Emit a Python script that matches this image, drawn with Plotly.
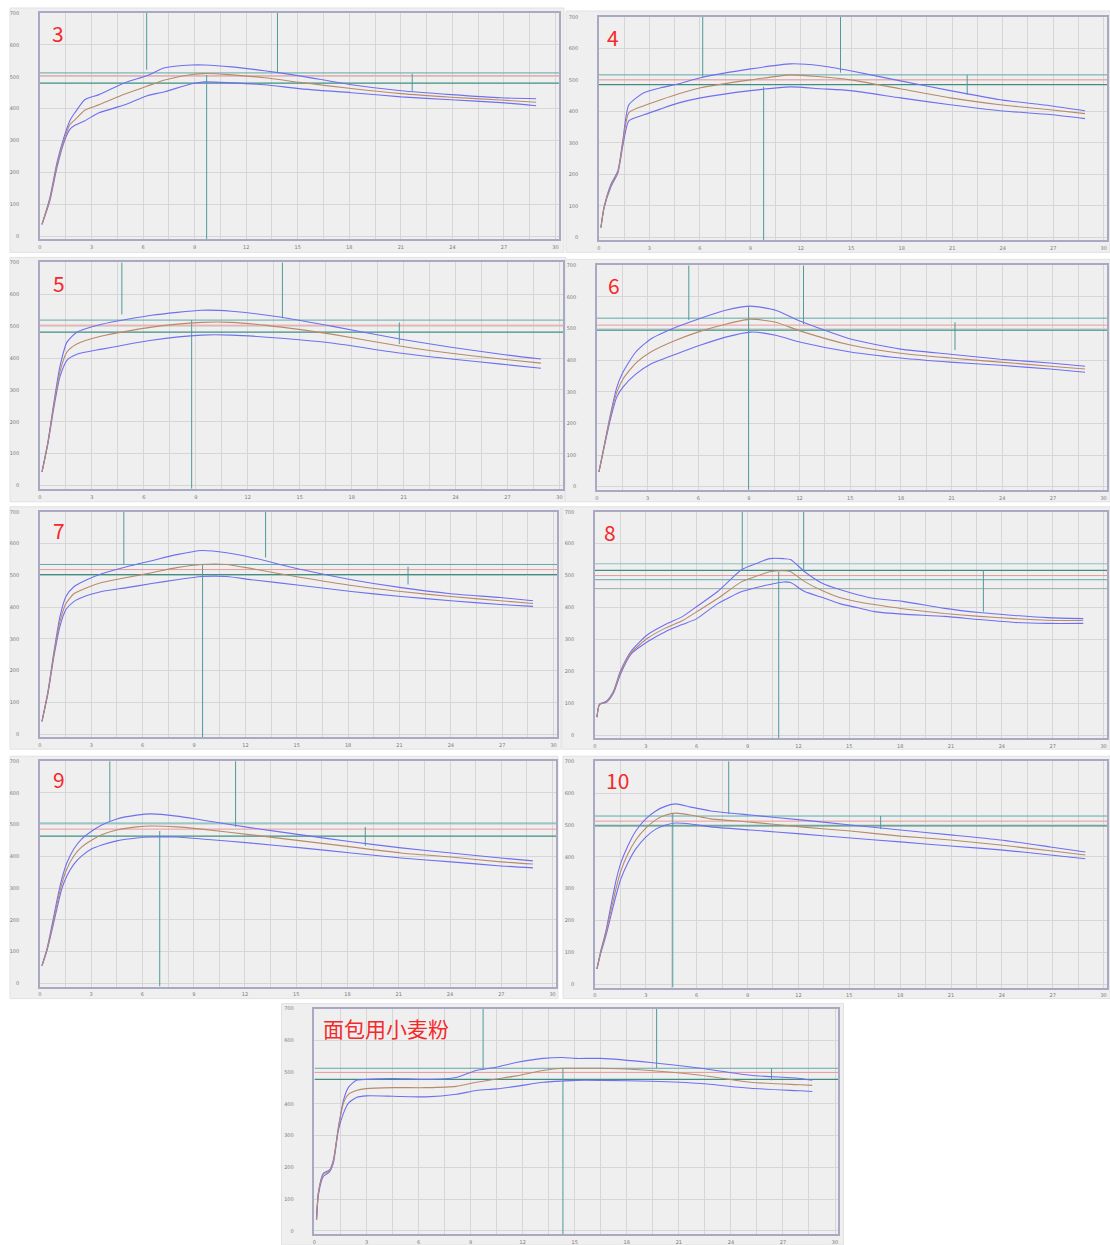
import plotly.graph_objects as go

W, H = 1110, 1245

# ---------------- data ----------------
p3_x = [0.12, 0.58, 0.99, 1.39, 1.74, 2.03, 2.61, 3.43, 4.94, 6.21, 7.26, 8.83, 9.58, 11.15, 13.07, 15.21, 18.12, 21.02, 23.93, 26.83, 28.87]
p3_upper = [37, 121, 231, 309, 362, 387, 428, 444, 481, 503, 528, 537, 537, 531, 519, 502, 475, 456, 444, 434, 431]
p3_mid = [37, 116, 223, 300, 350, 365, 395, 412, 446, 470, 490, 507, 510, 506, 497, 482, 463, 447, 436, 427, 420]
p3_lower = [37, 112, 215, 293, 335, 348, 362, 387, 412, 440, 453, 478, 484, 481, 475, 462, 450, 437, 428, 419, 409]
p3_ref = [512, 503, 480]
p3_vx = [6.21, 13.82, 9.70, 21.66]
p3_vy0 = [700, 700, 506, 509]
p3_vy1 = [522, 512, -10, 456]

p4_x = [0.12, 0.30, 0.71, 1.13, 1.42, 1.78, 2.67, 3.68, 4.75, 6.05, 9.02, 11.39, 13.17, 14.95, 17.92, 20.88, 23.85, 26.82, 28.89]
p4_upper = [31, 95, 168, 212, 307, 421, 459, 475, 488, 507, 535, 551, 545, 529, 497, 466, 437, 418, 402]
p4_mid = [31, 93, 164, 208, 300, 396, 418, 437, 456, 475, 500, 516, 510, 500, 472, 443, 421, 405, 393]
p4_lower = [31, 92, 160, 205, 290, 370, 389, 408, 427, 443, 466, 478, 472, 466, 443, 421, 402, 390, 377]
p4_ref = [516, 500, 485]
p4_vx = [6.17, 14.36, 9.79, 21.89]
p4_vy0 = [700, 700, 478, 516]
p4_vy1 = [507, 523, -10, 453]

p5_x = [0.12, 0.46, 0.81, 1.15, 1.56, 2.13, 3.57, 6.45, 9.34, 11.06, 13.95, 16.83, 20.86, 23.74, 26.63, 28.93]
p5_upper = [43, 137, 262, 372, 450, 481, 506, 534, 550, 547, 528, 500, 459, 434, 412, 397]
p5_mid = [43, 134, 256, 356, 419, 444, 469, 497, 512, 512, 497, 475, 437, 415, 397, 384]
p5_lower = [43, 131, 246, 340, 393, 412, 428, 456, 472, 472, 462, 447, 415, 397, 381, 368]
p5_ref = [519, 503, 481]
p5_vx = [4.73, 14.0, 8.76, 20.75]
p5_vy0 = [700, 700, 519, 512]
p5_vy1 = [537, 525, -10, 444]

p6_x = [0.12, 0.47, 0.83, 1.18, 1.54, 2.30, 3.19, 4.67, 6.15, 7.62, 9.10, 10.58, 12.06, 15.01, 17.97, 20.92, 23.88, 26.83, 28.90]
p6_upper = [47, 141, 236, 315, 362, 426, 467, 504, 533, 558, 571, 558, 523, 467, 435, 419, 403, 391, 381]
p6_mid = [47, 138, 230, 299, 340, 391, 426, 463, 492, 514, 530, 520, 492, 448, 422, 407, 394, 381, 372]
p6_lower = [47, 135, 220, 284, 315, 356, 388, 419, 448, 473, 489, 479, 457, 426, 407, 394, 384, 372, 362]
p6_ref = [533, 511, 495]
p6_vx = [5.44, 12.23, 8.98, 21.2]
p6_vy0 = [700, 700, 568, 520]
p6_vy1 = [527, 514, -10, 432]

p7_x = [0.12, 0.47, 0.82, 1.17, 1.52, 1.98, 2.74, 3.61, 5.07, 6.53, 7.99, 9.44, 10.9, 12.36, 15.27, 18.19, 21.1, 24.0, 26.9, 28.8]
p7_upper = [40, 135, 260, 370, 433, 464, 486, 505, 527, 546, 565, 578, 571, 556, 518, 486, 461, 442, 430, 420]
p7_mid = [40, 131, 254, 354, 411, 442, 461, 477, 493, 508, 524, 534, 534, 521, 493, 468, 449, 433, 420, 411]
p7_lower = [40, 128, 245, 339, 392, 417, 436, 449, 461, 474, 486, 496, 496, 486, 468, 449, 433, 420, 408, 402]
p7_ref = [534, 518, 502]
p7_vx = [4.9, 13.18, 9.5, 21.5]
p7_vy0 = [700, 700, 534, 527]
p7_vy1 = [534, 556, -10, 471]

p8_x = [0.12, 0.27, 0.68, 1.09, 1.50, 2.12, 3.12, 4.18, 5.18, 6.01, 7.24, 8.66, 9.48, 10.31, 11.13, 11.54, 12.37, 13.43, 14.43, 15.49, 16.49, 18.14, 20.62, 22.68, 24.74, 26.68, 28.80]
p8_upper = [56, 96, 106, 137, 200, 262, 315, 347, 372, 403, 450, 519, 537, 553, 553, 550, 512, 475, 456, 440, 428, 419, 397, 384, 375, 368, 365]
p8_mid = [56, 96, 104, 134, 195, 257, 304, 336, 359, 387, 428, 481, 497, 512, 515, 512, 481, 452, 431, 418, 409, 396, 381, 372, 365, 360, 359]
p8_lower = [56, 96, 103, 131, 190, 253, 293, 325, 347, 365, 412, 450, 462, 472, 480, 478, 450, 431, 412, 399, 387, 379, 372, 362, 353, 350, 350]
p8_ref = [537, 516, 500, 487, 459]
p8_vx = [8.69, 12.31, 10.84, 22.91]
p8_vy0 = [700, 700, 512, 516]
p8_vy1 = [519, 512, -10, 387]

p9_x = [0.12, 0.41, 0.70, 0.99, 1.28, 1.58, 1.99, 2.45, 3.04, 3.62, 4.50, 5.66, 6.54, 8.0, 9.46, 12.38, 15.3, 18.22, 21.14, 24.06, 26.98, 28.85]
p9_upper = [56, 109, 182, 260, 329, 380, 424, 455, 480, 499, 518, 530, 534, 527, 515, 490, 468, 446, 427, 411, 395, 386]
p9_mid = [56, 106, 172, 248, 314, 361, 402, 430, 452, 468, 483, 493, 496, 493, 486, 468, 449, 430, 411, 398, 383, 376]
p9_lower = [56, 103, 166, 235, 298, 339, 376, 402, 424, 436, 449, 458, 461, 461, 455, 442, 427, 411, 395, 383, 370, 364]
p9_ref = [505, 486, 464]
p9_vx = [4.09, 11.45, 7.01, 19.04]
p9_vy0 = [700, 700, 480, 493]
p9_vy1 = [512, 493, -10, 433]

p10_x = [0.12, 0.35, 0.65, 0.94, 1.24, 1.53, 1.94, 2.41, 3.0, 3.59, 4.18, 4.77, 5.65, 6.83, 9.19, 12.13, 15.08, 18.02, 20.97, 23.91, 26.86, 28.92]
p10_upper = [49, 106, 168, 246, 325, 381, 434, 481, 519, 544, 559, 566, 556, 544, 531, 516, 500, 484, 469, 453, 431, 415]
p10_mid = [49, 103, 162, 231, 300, 356, 409, 453, 490, 516, 531, 537, 531, 519, 509, 494, 481, 465, 453, 437, 419, 406]
p10_lower = [49, 99, 153, 215, 278, 331, 381, 425, 462, 487, 500, 506, 503, 494, 484, 472, 459, 447, 434, 422, 406, 394]
p10_ref = [528, 512, 497]
p10_vx = [7.89, 4.59, 16.85]
p10_vy0 = [700, 537, 528]
p10_vy1 = [534, -10, 487]

pb_x = [0.12, 0.23, 0.52, 0.86, 1.09, 1.38, 1.67, 1.96, 2.42, 2.99, 4.54, 6.44, 8.17, 9.32, 10.47, 11.62, 13.17, 14.32, 15.07, 16.5, 19.38, 22.25, 25.13, 28.0, 28.69]
pb_upper = [34, 122, 182, 191, 223, 326, 411, 452, 474, 477, 480, 477, 483, 505, 515, 530, 543, 546, 543, 543, 530, 512, 490, 480, 474]
pb_mid = [34, 119, 179, 188, 219, 323, 402, 430, 442, 448, 451, 451, 455, 468, 478, 488, 505, 512, 512, 512, 505, 490, 468, 460, 458]
pb_lower = [34, 113, 172, 185, 213, 317, 370, 402, 420, 425, 424, 422, 430, 442, 447, 455, 468, 472, 474, 474, 471, 464, 449, 441, 439]
pb_ref = [512, 499, 477]
pb_vx = [9.72, 19.72, 14.32, 26.34]
pb_vy0 = [700, 700, 512, 512]
pb_vy1 = [512, 512, -10, 474]

panel_labels = ["3", "4", "5", "6", "7", "8", "9", "10", "面包用小麦粉"]
x_ticks = [0, 3, 6, 9, 12, 15, 18, 21, 24, 27, 30]
y_ticks = [0, 100, 200, 300, 400, 500, 600, 700]

# ---------------- layout geometry (pixels) ----------------
panels = [
    dict(x=p3_x, up=p3_upper, mid=p3_mid, lo=p3_lower, ref=p3_ref, vx=p3_vx, vy0=p3_vy0, vy1=p3_vy1,
         outer=(8, 563, 5, 250), plot=(38, 558, 10, 237), lab=(48, 30)),
    dict(x=p4_x, up=p4_upper, mid=p4_mid, lo=p4_lower, ref=p4_ref, vx=p4_vx, vy0=p4_vy0, vy1=p4_vy1,
         outer=(565, 1110, 8, 250), plot=(598, 1107, 14, 238), lab=(604, 34)),
    dict(x=p5_x, up=p5_upper, mid=p5_mid, lo=p5_lower, ref=p5_ref, vx=p5_vx, vy0=p5_vy0, vy1=p5_vy1,
         outer=(8, 565, 255, 500), plot=(38, 562, 260, 487), lab=(49, 281)),
    dict(x=p6_x, up=p6_upper, mid=p6_mid, lo=p6_lower, ref=p6_ref, vx=p6_vx, vy0=p6_vy0, vy1=p6_vy1,
         outer=(564, 1110, 257, 500), plot=(596, 1107, 263, 488), lab=(605, 283)),
    dict(x=p7_x, up=p7_upper, mid=p7_mid, lo=p7_lower, ref=p7_ref, vx=p7_vx, vy0=p7_vy0, vy1=p7_vy1,
         outer=(8, 560, 505, 748), plot=(38, 556, 510, 736), lab=(49, 528)),
    dict(x=p8_x, up=p8_upper, mid=p8_mid, lo=p8_lower, ref=p8_ref, vx=p8_vx, vy0=p8_vy0, vy1=p8_vy1,
         outer=(561, 1110, 505, 748), plot=(594, 1107, 510, 737), lab=(601, 530)),
    dict(x=p9_x, up=p9_upper, mid=p9_mid, lo=p9_lower, ref=p9_ref, vx=p9_vx, vy0=p9_vy0, vy1=p9_vy1,
         outer=(8, 557, 755, 998), plot=(38, 555, 760, 986), lab=(49, 778)),
    dict(x=p10_x, up=p10_upper, mid=p10_mid, lo=p10_lower, ref=p10_ref, vx=p10_vx, vy0=p10_vy0, vy1=p10_vy1,
         outer=(562, 1110, 755, 998), plot=(594, 1107, 760, 987), lab=(603, 779)),
    dict(x=pb_x, up=pb_upper, mid=pb_mid, lo=pb_lower, ref=pb_ref, vx=pb_vx, vy0=pb_vy0, vy1=pb_vy1,
         outer=(280, 843, 1003, 1245), plot=(313, 838, 1008, 1234), lab=(320, 1027)),
]

ref_styles3 = [("#5fa9a9", 1.0), ("#e99a9a", 1.0), ("#3f8f80", 1.3)]
ref_styles5 = [("#8fc0c0", 1.0), ("#3f8f80", 1.3), ("#e99a9a", 1.0), ("#5fa9a9", 1.0), ("#9aaaaa", 1.0)]

BLUE = "#6f6ff0"
BROWN = "#b98a6a"
TEAL = "#4f9a9a"
GRID = "#d6d6d6"
BG = "#efefef"
BORDER = "#a9a9c4"

fig = go.Figure()
shapes = []
annotations = []
layout = {}

for i, p in enumerate(panels):
    n = "" if i == 0 else str(i + 1)
    xa, ya = "x" + n, "y" + n
    x0, x1, y0, y1 = p["plot"]
    ox0, ox1, oy0, oy1 = p["outer"]
    shapes.append(dict(type="rect", xref="paper", yref="paper", layer="below",
                       x0=ox0 / W, x1=ox1 / W, y0=1 - oy1 / H, y1=1 - oy0 / H,
                       fillcolor=BG, line=dict(color="#e2e2e2", width=1)))
    common_tick = dict(ticks="outside", tickcolor="rgba(0,0,0,0)",
                       tickfont=dict(size=5, color="#7a7a7a", family="DejaVu Sans"))
    layout["xaxis" + n] = dict(domain=[x0 / W, x1 / W], anchor=ya, range=[0, 30.2],
                               tickvals=x_ticks, ticklen=2, showgrid=True, gridcolor=GRID, gridwidth=1,
                               minor=dict(tickvals=[v + 1.5 for v in x_ticks[:-1]], showgrid=True, gridcolor=GRID, ticks=""),
                               showline=True, mirror=True, linecolor=BORDER, linewidth=1.5,
                               zeroline=False, fixedrange=True, **common_tick)
    layout["yaxis" + n] = dict(domain=[1 - y1 / H, 1 - y0 / H], anchor=xa, range=[-10, 700],
                               tickvals=y_ticks, ticklen=18, showgrid=True, gridcolor=GRID, gridwidth=1,
                               showline=True, mirror=True, linecolor=BORDER, linewidth=1.5,
                               zeroline=False, fixedrange=True, **common_tick)

    styles = ref_styles5 if len(p["ref"]) == 5 else ref_styles3
    for v, (c, w) in zip(p["ref"], styles):
        fig.add_trace(go.Scatter(x=[0, 30.2], y=[v, v], mode="lines", line=dict(color=c, width=w),
                                 xaxis=xa, yaxis=ya, showlegend=False, hoverinfo="skip"))
    for vx, a, b in zip(p["vx"], p["vy0"], p["vy1"]):
        fig.add_trace(go.Scatter(x=[vx, vx], y=[a, b], mode="lines", line=dict(color=TEAL, width=1),
                                 xaxis=xa, yaxis=ya, showlegend=False, hoverinfo="skip"))
    for key, col in (("lo", BLUE), ("up", BLUE), ("mid", BROWN)):
        fig.add_trace(go.Scatter(x=p["x"], y=p[key], mode="lines",
                                 line=dict(color=col, width=1.1, shape="spline", smoothing=0.6),
                                 xaxis=xa, yaxis=ya, showlegend=False))
    lx, ly = p["lab"]
    annotations.append(dict(text=panel_labels[i], xref="paper", yref="paper",
                            x=lx / W, y=1 - ly / H, xanchor="left", yanchor="middle", showarrow=False,
                            font=dict(size=21, color="#f42a2a",
                                      family="Noto Sans CJK SC, Noto Sans, sans-serif")))

fig.update_layout(width=W, height=H, margin=dict(l=0, r=0, t=0, b=0),
                  paper_bgcolor="white", plot_bgcolor=BG, showlegend=False,
                  shapes=shapes, annotations=annotations, **layout)

fig.write_html("out.html", config={"displayModeBar": False},
               post_script="document.body.style.margin='0';document.body.style.padding='0';"
                           "document.body.style.overflow='hidden';")
